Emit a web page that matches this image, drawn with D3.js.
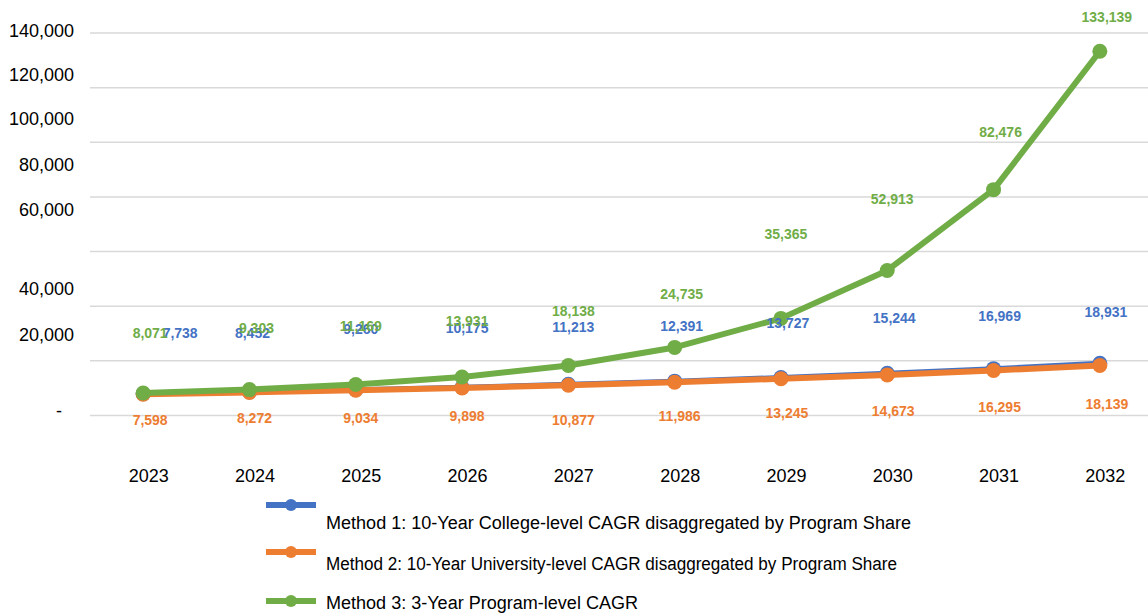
<!DOCTYPE html>
<html>
<head>
<meta charset="utf-8">
<script src="https://cdn.jsdelivr.net/npm/d3@7"></script>
<style>
  html, body { margin: 0; padding: 0; background: #fff; }
  svg { display: block; font-family: "Liberation Sans", Arial, sans-serif; }
</style>
</head>
<body>
<svg id="chart" width="1148" height="616"></svg>
<script>
// ---- data ----
const years = ["2023", "2024", "2025", "2026", "2027", "2028", "2029", "2030", "2031", "2032"];
const method1 = [7738, 8452, 9260, 10175, 11213, 12391, 13727, 15244, 16969, 18931];
const method2 = [7598, 8272, 9034, 9898, 10877, 11986, 13245, 14673, 16295, 18139];
const method3 = [8071, 9303, 11169, 13931, 18138, 24735, 35365, 52913, 82476, 133139];
const seriesNames = [
  "Method 1: 10-Year College-level CAGR disaggregated by Program Share",
  "Method 2: 10-Year University-level CAGR disaggregated by Program Share",
  "Method 3: 3-Year Program-level CAGR"
];
const tickValues = [0, 20000, 40000, 60000, 80000, 100000, 120000, 140000];
const tickLabels = ["-", "20,000", "40,000", "60,000", "80,000", "100,000", "120,000", "140,000"];

// ---- layout ----
const W = 1148, H = 616;
const plot = { left: 90, right: 1153, top: 32.5, bottom: 415, gridRight: 1148 };
const colors = ["#4472C4", "#ED7D31", "#70AD47"];
// vertical placement of the axis labels relative to their gridlines
const tickLabelDy = [-4, -26, -17, -41, -32, -23, -12, -2];
// data-label nudges [dx, dy] relative to each point
const labelNudge = [
  [[37, -61], [3, -59], [5, -61], [5, -59], [5, -57], [7, -55], [7, -54], [7, -55], [6, -53], [6, -51]],
  [[7, 26], [5, 26], [5, 28], [5, 28], [5, 35], [5, 34], [6, 34], [6, 36], [6, 37], [7, 39]],
  [[7, -60], [7, -61], [5, -58], [5, -56], [5, -54], [7, -53], [5, -84], [5, -71], [7, -58], [7, -34]]
];

const svg = d3.select("#chart");

const x = d3.scalePoint().domain(years).range([plot.left, plot.right]).padding(0.5);
const y = d3.scaleLinear().domain([0, 140000]).range([plot.bottom, plot.top]);

// gridlines + value axis labels
const yAxis = d3.axisLeft(y)
  .tickValues(tickValues)
  .tickFormat((d, i) => tickLabels[i])
  .tickSize(-(plot.gridRight - plot.left))
  .tickPadding(16);

const gy = svg.append("g")
  .attr("transform", `translate(${plot.left},0)`)
  .call(yAxis);
gy.select(".domain").remove();
gy.selectAll(".tick line").attr("stroke", "#d9d9d9").attr("stroke-width", 1.5);
gy.selectAll(".tick text")
  .attr("fill", "#000")
  .attr("font-size", 18)
  .attr("font-family", "Liberation Sans, Arial, sans-serif")
  .attr("y", (d, i) => tickLabelDy[i])
  .attr("dx", (d, i) => tickValues[i] === 0 ? -12 : 0);

// category axis labels
const xAxis = d3.axisBottom(x).tickSize(0).tickPadding(0);
const gx = svg.append("g")
  .attr("transform", `translate(5,${plot.bottom + 61})`)
  .call(xAxis);
gx.select(".domain").remove();
gx.selectAll(".tick text")
  .attr("fill", "#000")
  .attr("font-size", 18)
  .attr("font-family", "Liberation Sans, Arial, sans-serif")
  .attr("dy", "0.35em");

// series
const series = [method1, method2, method3];
const widths = [5, 6, 6];
const line = d3.line().x((d, i) => x(years[i])).y(d => y(d));

series.forEach((vals, s) => {
  const g = svg.append("g");
  g.append("path")
    .datum(vals)
    .attr("d", line)
    .attr("fill", "none")
    .attr("stroke", colors[s])
    .attr("stroke-width", widths[s])
    .attr("stroke-linejoin", "round");
  g.selectAll("circle")
    .data(vals)
    .join("circle")
    .attr("cx", (d, i) => x(years[i]))
    .attr("cy", d => y(d))
    .attr("r", 7.5)
    .attr("fill", colors[s]);
});

// data labels
const fmt = d3.format(",");
series.forEach((vals, s) => {
  svg.append("g").selectAll("text")
    .data(vals)
    .join("text")
    .attr("x", (d, i) => x(years[i]) + labelNudge[s][i][0])
    .attr("y", (d, i) => y(d) + labelNudge[s][i][1])
    .attr("dy", "0.35em")
    .attr("text-anchor", "middle")
    .attr("font-size", 14)
    .attr("font-weight", "bold")
    .attr("fill", colors[s])
    .text(d => fmt(d));
});

// legend
const legendItems = [
  { marker: 505, text: 523, width: 585 },
  { marker: 552, text: 564, width: 571 },
  { marker: 601, text: 603, width: 312 }
];
const leg = svg.append("g");
legendItems.forEach((it, s) => {
  leg.append("line")
    .attr("x1", 266).attr("x2", 316)
    .attr("y1", it.marker).attr("y2", it.marker)
    .attr("stroke", colors[s]).attr("stroke-width", 6);
  leg.append("circle")
    .attr("cx", 291).attr("cy", it.marker).attr("r", 6)
    .attr("fill", colors[s]);
  leg.append("text")
    .attr("x", 326).attr("y", it.text)
    .attr("dy", "0.35em")
    .attr("font-size", 18)
    .attr("fill", "#000")
    .attr("textLength", it.width)
    .attr("lengthAdjust", "spacingAndGlyphs")
    .text(seriesNames[s]);
});
</script>
</body>
</html>
